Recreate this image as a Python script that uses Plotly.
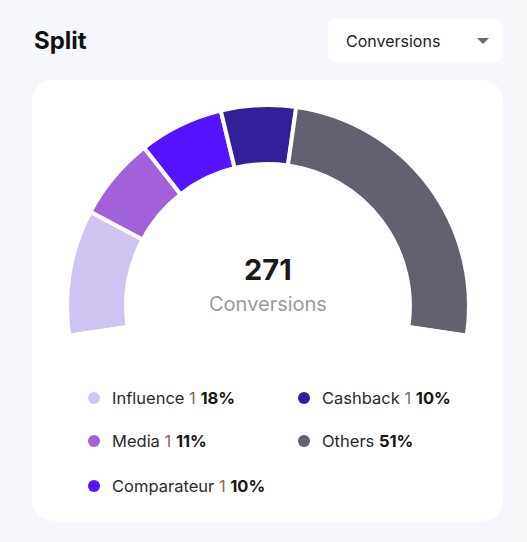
import plotly.graph_objects as go

W, H = 527, 542

# Segment data (arc shares, legend labels as printed)
categories = ["Influence", "Media", "Comparateur", "Cashback", "Others"]
arc_shares = [18.5, 12.2, 12.4, 11.0, 45.9]
pct_labels = ["18%", "11%", "10%", "10%", "51%"]
show_sep = [True, True, True, True, False]
colors = ["#d0c5f2", "#a162d9", "#5514ff", "#341f9a", "#656070"]

total_value = 271
total_label = "Conversions"
dropdown_label = "Conversions"
title = "Split"

FONT = "Inter, Lato, sans-serif"
BG = "#f6f6fd"


def px(x):
    return x / W


def py(y):
    return 1 - y / H


def round_rect(x0, y0, x1, y1, r):
    # rounded rectangle path in paper coordinates, from pixel values
    pts = [
        f"M {px(x0 + r)} {py(y0)}",
        f"L {px(x1 - r)} {py(y0)}",
        f"Q {px(x1)} {py(y0)} {px(x1)} {py(y0 + r)}",
        f"L {px(x1)} {py(y1 - r)}",
        f"Q {px(x1)} {py(y1)} {px(x1 - r)} {py(y1)}",
        f"L {px(x0 + r)} {py(y1)}",
        f"Q {px(x0)} {py(y1)} {px(x0)} {py(y1 - r)}",
        f"L {px(x0)} {py(y0 + r)}",
        f"Q {px(x0)} {py(y0)} {px(x0 + r)} {py(y0)}",
        "Z",
    ]
    return " ".join(pts)


# gauge geometry: ~197 degree arc, centred on the card
span = 197.0
hidden = sum(arc_shares) * (360 - span) / span
rotation = 270 - (span - 180) / 2
cx, cy, R = 268, 306, 201

fig = go.Figure(go.Pie(
    labels=categories + [""],
    values=arc_shares + [hidden],
    marker=dict(colors=colors + ["rgba(0,0,0,0)"],
                line=dict(color="white", width=4)),
    hole=0.706,
    sort=False,
    direction="clockwise",
    rotation=rotation,
    textinfo="none",
    hoverinfo="skip",
    domain=dict(x=[px(cx - R), px(cx + R)], y=[py(cy + R), py(cy - R)]),
))

shapes = [
    # scrollbar strip
    dict(type="rect", xref="paper", yref="paper", x0=px(517), x1=1,
         y0=0, y1=1, fillcolor="#f6f6f6", line_width=0, layer="below"),
    # card
    dict(type="path", xref="paper", yref="paper",
         path=round_rect(32, 80, 503, 521, 24),
         fillcolor="white", line_width=0, layer="below"),
    # dropdown box
    dict(type="path", xref="paper", yref="paper",
         path=round_rect(328, 19, 503, 62, 9),
         fillcolor="white", line_width=0, layer="below"),
    # dropdown caret
    dict(type="path", xref="paper", yref="paper",
         path=f"M {px(477)} {py(38)} L {px(489)} {py(38)} L {px(483)} {py(44)} Z",
         fillcolor="#6b6b6b", line_width=0),
]

annotations = [
    dict(text=f"<b>{title}</b>", x=px(32), y=py(41), xanchor="left",
         yanchor="middle", font=dict(size=24, color="#111111")),
    dict(text=dropdown_label, x=px(344), y=py(41), xanchor="left",
         yanchor="middle", font=dict(size=16, color="#222222")),
    dict(text=f"<b>{total_value}</b>", x=px(cx), y=py(269), xanchor="center",
         yanchor="middle", font=dict(size=29, color="#1a1a1a")),
    dict(text=total_label, x=px(cx), y=py(304), xanchor="center",
         yanchor="middle", font=dict(size=20, color="#9a9a9a")),
]

# legend: two columns, three rows, filled column by column
col_dot_x = [94, 304]
row_y = [398, 441, 486]
dot_r = 6
for i, name in enumerate(categories):
    col, row = divmod(i, 3)
    x, y = col_dot_x[col], row_y[row]
    shapes.append(dict(type="circle", xref="paper", yref="paper",
                       x0=px(x - dot_r), x1=px(x + dot_r),
                       y0=py(y + dot_r), y1=py(y - dot_r),
                       fillcolor=colors[i], line_width=0))
    sep = " <span style='color:#8a6656'>1</span>" if show_sep[i] else ""
    annotations.append(dict(
        text=f"{name}{sep} <b><span style='color:#161616'>{pct_labels[i]}</span></b>",
        x=px(x + 16), y=py(y), xanchor="left", yanchor="middle",
        font=dict(size=16.5, color="#2a2a2a")))

for a in annotations:
    a.update(xref="paper", yref="paper", showarrow=False)

fig.update_layout(
    width=W, height=H,
    margin=dict(l=0, r=0, t=0, b=0),
    paper_bgcolor=BG,
    plot_bgcolor=BG,
    font=dict(family=FONT),
    showlegend=False,
    shapes=shapes,
    annotations=annotations,
)

# drop the default page margin so the figure fills the window
fig.write_html(
    "out.html",
    config={"displayModeBar": False},
    post_script=f"document.body.style.margin='0';"
                f"document.body.style.background='{BG}';"
                f"document.body.style.overflow='hidden';",
)
